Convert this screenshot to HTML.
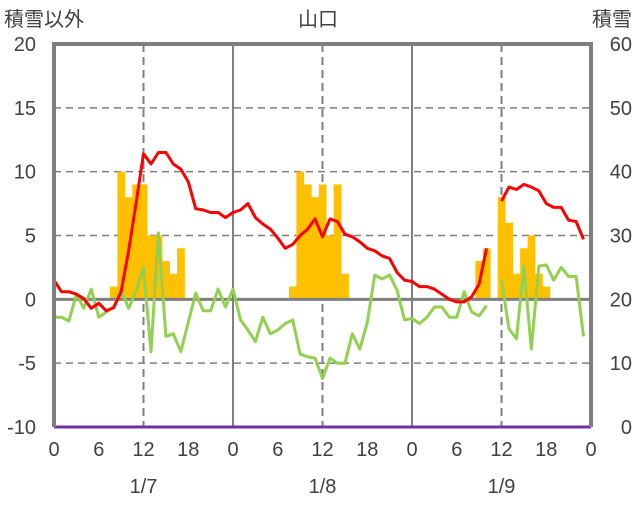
<!DOCTYPE html>
<html><head><meta charset="utf-8">
<style>
html,body{margin:0;padding:0;background:#fff;}
svg text{font-family:"Liberation Sans","Noto Sans CJK JP",sans-serif;fill:#404040;}
</style></head>
<body>
<svg id="chart" width="636" height="501" viewBox="0 0 636 501" xmlns="http://www.w3.org/2000/svg">
<g id="grid"></g>
<g id="bars"></g>
<g id="lines"></g>
<g id="frame"></g>
<g id="labels"></g>
</svg>
<script>
const days = ["1/7","1/8","1/9"];
const hourTicks = ["0","6","12","18"];
const leftTicks = [20,15,10,5,0,-5,-10];
const rightTicks = [60,50,40,30,20,10,0];
// snowfall bars (hour index from start, value on left scale)
const snowHours = [8,9,10,11,12,13,14,15,16,17, 32,33,34,35,36,37,38,39, 57,58,60,61,62,63,64,65,66];
const snowValues = [1,10,8,9,9,5,5,3,2,4, 1,10,9,8,9,5,9,2, 3,4,8,6,2,4,5,2,1];
// red series (temperature), null = gap
const redValues = [1.5,0.6,0.6,0.4,0.05,-0.7,-0.3,-0.9,-0.65,0.6,3.8,7.5,11.4,10.6,11.5,11.5,10.6,10.2,9.2,7.1,7.0,6.8,6.8,6.4,
 6.8,7.0,7.5,6.4,5.9,5.5,4.8,4.0,4.3,5.0,5.5,6.3,4.9,6.3,6.1,5.1,4.9,4.5,4.0,3.8,3.4,3.2,2.1,1.5,
 1.4,1.0,1.0,0.8,0.4,0.0,-0.2,-0.2,0.2,1.2,4.0,null,7.7,8.8,8.6,9.0,8.8,8.5,7.5,7.2,7.2,6.2,6.1,4.7];
// green series
const greenValues = [-1.4,-1.4,-1.7,0.4,-0.7,0.8,-1.4,-1.0,-0.6,0.7,-0.7,0.6,2.5,-4.1,5.2,-2.9,-2.7,-4.1,-1.8,0.5,-0.9,-0.9,0.8,-0.6,
 0.8,-1.6,-2.4,-3.3,-1.4,-2.7,-2.4,-1.9,-1.6,-4.3,-4.5,-4.6,-6.2,-4.6,-5.0,-5.0,-2.7,-3.9,-1.8,1.9,1.6,1.9,0.7,-1.6,
 -1.5,-1.9,-1.4,-0.6,-0.6,-1.4,-1.4,0.6,-1.0,-1.3,-0.5,null,1.5,-2.3,-3.1,2.6,-3.9,2.6,2.7,1.5,2.5,1.8,1.8,-2.9];

const NS="http://www.w3.org/2000/svg";
const X0=54, X1=591, Y0=44, Y1=427;
const hourW=(X1-X0)/72;
const xOf=h=>X0+h*hourW;
const yOf=v=>Y1-(v+10)/30*(Y1-Y0);
function mk(tag,attrs,parent){const e=document.createElementNS(NS,tag);for(const k in attrs)e.setAttribute(k,attrs[k]);parent.appendChild(e);return e;}
const grid=document.getElementById('grid'),bars=document.getElementById('bars'),lines=document.getElementById('lines'),frame=document.getElementById('frame'),labels=document.getElementById('labels');

leftTicks.forEach(v=>{
  if(v===20||v===-10||v===0) return;
  const g=mk('line',{x1:X0,x2:X1,y1:yOf(v),y2:yOf(v),stroke:'#7f7f7f','stroke-width':1.5,'stroke-dasharray':'7,5'},grid);
  
  
});
days.forEach((d,i)=>{
  const xm=xOf(i*24+12);
  const l=mk('line',{x1:xm,x2:xm,y1:Y0,y2:Y1,stroke:'#7f7f7f','stroke-width':2,'stroke-dasharray':'8,5'},grid);
  
  
  if(i>0){
    const s=mk('line',{x1:xOf(i*24),x2:xOf(i*24),y1:Y0,y2:Y1,stroke:'#7f7f7f','stroke-width':2},grid);
    
    
  }
});

snowHours.forEach((h,i)=>{
  const v=snowValues[i];
  const r=mk('rect',{x:xOf(h-0.5),y:yOf(v),width:hourW+0.3,height:yOf(0)-yOf(v),fill:'#ffc000'},bars);
  
  
});

const z=mk('line',{x1:X0,x2:X1,y1:yOf(0),y2:yOf(0),stroke:'#7f7f7f','stroke-width':3},lines);



function series(vals,color,name){
  let d='',pen=false;
  vals.forEach((v,i)=>{
    if(v===null){pen=false;return;}
    d+=(pen?'L':'M')+xOf(i).toFixed(1)+','+yOf(v).toFixed(1);
    pen=true;
  });
  const p=mk('path',{d:d,fill:'none',stroke:color,'stroke-width':3,'stroke-linejoin':'round'},lines);
  
  
}
series(greenValues,'#92d050','green-series-line');
series(redValues,'#ff0000','red-series-line');

const pl=mk('line',{x1:X0,x2:X1,y1:Y1,y2:Y1,stroke:'#7030a0','stroke-width':3},lines);



const fr=mk('path',{d:`M${X0},${Y1}V${Y0}H${X1}V${Y1}`,fill:'none',stroke:'#7f7f7f','stroke-width':4},frame);



leftTicks.forEach(v=>{
  const t=mk('text',{x:36,y:yOf(v)+7,'text-anchor':'end','font-size':20},labels);
  t.textContent=v;
  
  
});
rightTicks.forEach(v=>{
  const y=Y1-v/60*(Y1-Y0);
  const t=mk('text',{x:632,y:y+7,'text-anchor':'end','font-size':20},labels);
  t.textContent=v;
  
  
});
for(let i=0;i<=12;i++){
  const lab=i===12?'0':hourTicks[i%4];
  const t=mk('text',{x:xOf(i*6),y:456,'text-anchor':'middle','font-size':20},labels);
  t.textContent=lab;
  
  
}
days.forEach((d,i)=>{
  const t=mk('text',{x:xOf(i*24+12),y:493,'text-anchor':'middle','font-size':20},labels);
  t.textContent=d;
  
  
});
const t1=mk('text',{x:4,y:26,'font-size':20},labels);t1.textContent='積雪以外';


const t2=mk('text',{x:632,y:26,'text-anchor':'end','font-size':20},labels);t2.textContent='積雪';


const t3=mk('text',{x:318,y:26,'text-anchor':'middle','font-size':20},labels);t3.textContent='山口';


</script>
</body></html>
